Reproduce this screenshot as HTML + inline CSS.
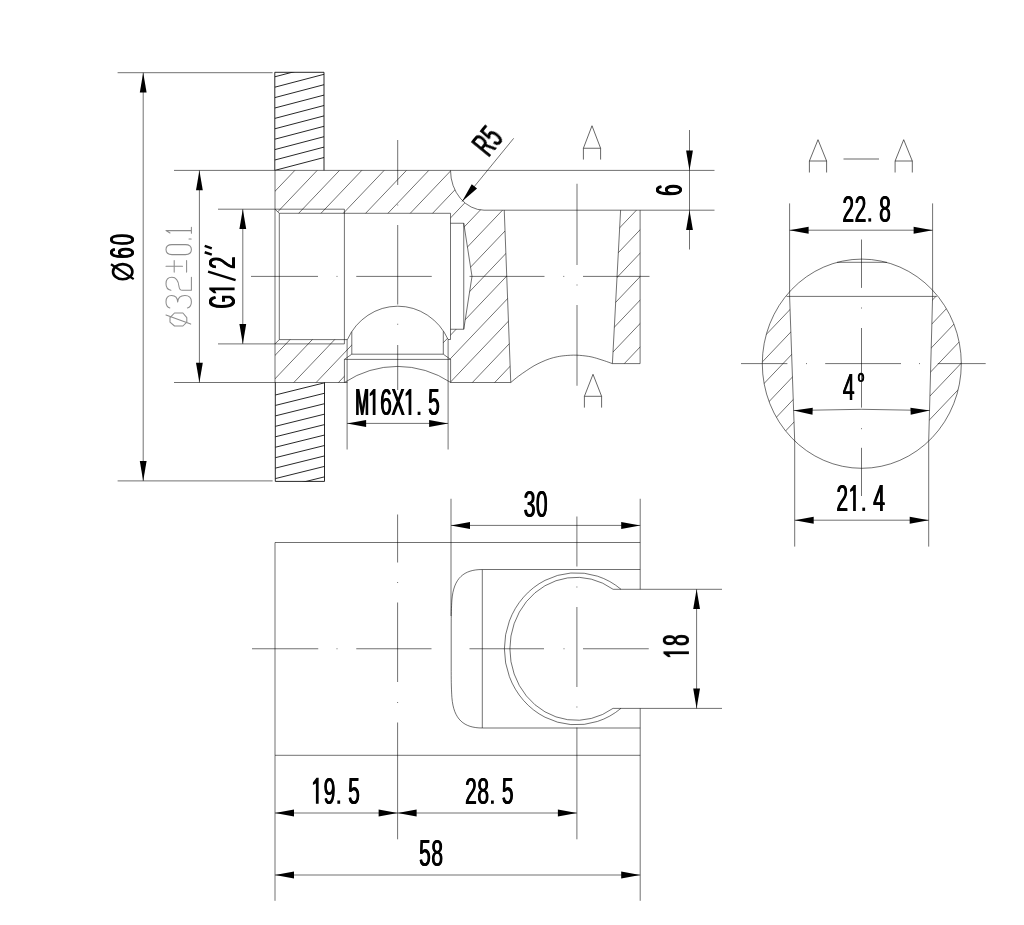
<!DOCTYPE html>
<html><head><meta charset="utf-8"><title>drawing</title>
<style>
html,body{margin:0;padding:0;background:#fff;}
svg{display:block;font-family:"Liberation Sans",sans-serif;}
.l{stroke:#000;stroke-width:0.56;fill:none;}
.c{stroke:#000;stroke-width:0.56;fill:none;}
.d{stroke:#000;stroke-width:0.85;fill:none;}
.g{stroke:#000;stroke-width:0.6;fill:none;}
.ah{fill:#000;stroke:none;}
.t{fill:#000;font-family:"Liberation Sans",sans-serif;}
.tl{fill:none;stroke:#8c8c8c;stroke-width:1.05;stroke-linecap:round;stroke-linejoin:round;}
</style></head><body>
<svg width="1024" height="925" viewBox="0 0 1024 925">
<rect x="0" y="0" width="1024" height="925" fill="#fff"/>

<defs>
<clipPath id="cw1"><rect x="274.8" y="72.3" width="49.2" height="98.1"/></clipPath>
<clipPath id="cw2"><rect x="275.3" y="382.4" width="49.2" height="99"/></clipPath>
<clipPath id="ch1"><path d="M275,170.4 L450.5,170.4 A34,40 0 0 0 484,210.2 L504.25,210.2 L510.75,382.5 L450.5,382.5 L450.5,359.4 L443.3,354.2 L443.3,331.3 L448.1,339.5 L450.5,339.5 L450.5,329.25 L463.75,329.25 L472,276.4 L463.75,223.25 L450.5,223.25 L450.5,213.3 L279.3,213.3 L275,209.2 Z"/></clipPath>
<clipPath id="ch2"><path d="M275,343.9 L279.3,339.6 L347.4,339.6 L351.8,331.7 L351.8,354.2 L344.4,359.4 L344.4,382.6 L275,382.6 Z"/></clipPath>
<clipPath id="ch3"><path d="M620.6,210.2 L640.1,210.2 L640.1,363.6 L612.4,363.6 Z"/></clipPath>
<clipPath id="ca1"><path d="M789.6,296.4 L794.8,441 L700,441 L700,296.4 Z"/></clipPath>
<clipPath id="ca2"><path d="M932.6,296.4 L928.8,441 L1000,441 L1000,296.4 Z"/></clipPath>
<clipPath id="cae"><ellipse cx="861.8" cy="363.7" rx="99.5" ry="104.6"/></clipPath>
</defs>
<path class="d" d="M274.8,170.4 V72.3 H324 V170.4"/>
<path class="d" d="M275.3,382.4 V481.4 H324.5 V382.4"/>
<g clip-path="url(#cw1)">
<path class="d" d="M274.80,170.40L324.00,157.50"/>
<path class="d" d="M274.80,160.00L324.00,147.10"/>
<path class="d" d="M274.80,149.60L324.00,136.70"/>
<path class="d" d="M274.80,139.20L324.00,126.30"/>
<path class="d" d="M274.80,128.80L324.00,115.90"/>
<path class="d" d="M274.80,118.40L324.00,105.50"/>
<path class="d" d="M274.80,108.00L324.00,95.10"/>
<path class="d" d="M274.80,97.60L324.00,84.70"/>
<path class="d" d="M274.80,87.20L324.00,74.30"/>
<path class="d" d="M274.80,76.80L324.00,63.90"/>
<path class="d" d="M274.80,66.40L324.00,53.50"/>
</g>
<g clip-path="url(#cw2)">
<path class="d" d="M275.30,395.00L324.50,382.80"/>
<path class="d" d="M275.30,405.45L324.50,393.25"/>
<path class="d" d="M275.30,415.90L324.50,403.70"/>
<path class="d" d="M275.30,426.35L324.50,414.15"/>
<path class="d" d="M275.30,436.80L324.50,424.60"/>
<path class="d" d="M275.30,447.25L324.50,435.05"/>
<path class="d" d="M275.30,457.70L324.50,445.50"/>
<path class="d" d="M275.30,468.15L324.50,455.95"/>
<path class="d" d="M275.30,478.60L324.50,466.40"/>
<path class="d" d="M275.30,489.05L324.50,476.85"/>
</g>
<path class="l" d="M117.60,72.70L272.60,72.70"/>
<path class="l" d="M117.60,480.90L272.60,480.90"/>
<path class="l" d="M143.20,72.70L143.20,480.90"/>
<path class="ah" d="M143.20,72.70L146.60,92.50L139.80,92.50Z"/>
<path class="ah" d="M143.20,480.90L139.80,461.10L146.60,461.10Z"/>
<path class="l" d="M174.00,170.40L714.50,170.40"/>
<path class="l" d="M174.00,382.50L347.40,382.50"/>
<path class="l" d="M199.40,170.40L199.40,382.50"/>
<path class="ah" d="M199.40,170.40L202.80,190.20L196.00,190.20Z"/>
<path class="ah" d="M199.40,382.50L196.00,362.70L202.80,362.70Z"/>
<path class="l" d="M218.00,209.20L344.40,209.20"/>
<path class="l" d="M218.00,343.90L344.40,343.90"/>
<path class="l" d="M242.80,209.20L242.80,343.90"/>
<path class="ah" d="M242.80,209.20L246.20,229.00L239.40,229.00Z"/>
<path class="ah" d="M242.80,343.90L239.40,324.10L246.20,324.10Z"/>
<path class="l" d="M275.00,170.40L275.00,382.50"/>
<path class="l" d="M344.40,209.20L344.40,343.90"/>
<path class="l" d="M275,209.2 L279.3,213.3 L450.5,213.3"/>
<path class="l" d="M279.30,213.30L279.30,339.60"/>
<path class="l" d="M275,343.9 L279.3,339.6 L347.4,339.6"/>
<path class="l" d="M450.50,213.30L450.50,339.50"/>
<path class="l" d="M450.5,223.25 H463.75 V329.25 H450.5"/>
<path class="l" d="M463.75,223.25 L472,276.4 L463.75,329.25"/>
<path class="l" d="M450.5,170.4 A34,40 0 0 0 484,210.2 L714.5,210.2"/>
<path class="l" d="M504.25,210.20L510.75,382.50"/>
<path class="l" d="M450.50,382.50L510.75,382.50"/>
<path class="l" d="M510.75,382.50 C512.03,381.46 515.85,378.20 518.44,376.25 C521.02,374.30 523.65,372.53 526.25,370.78 C528.85,369.04 531.46,367.27 534.06,365.78 C536.67,364.30 539.27,363.05 541.88,361.88 C544.48,360.70 547.08,359.61 549.69,358.75 C552.29,357.89 554.90,357.24 557.50,356.72 C560.10,356.20 562.19,355.89 565.31,355.62 C568.44,355.36 572.34,355.03 576.25,355.16 C580.16,355.29 585.36,355.89 588.75,356.41 C592.14,356.93 593.96,357.55 596.56,358.28 C599.17,359.01 601.74,359.89 604.38,360.78 C607.01,361.67 611.06,363.13 612.40,363.60"/>
<path class="l" d="M620.6,210.2 L612.4,363.6 L640.1,363.6 L640.1,210.2"/>
<path class="l" d="M347.4,339.6 A55.8,58.6 0 0 1 448.1,339.5 L450.5,339.5"/>
<path class="l" d="M351.8,331.7 V354.2 H443.3 V331.3"/>
<path class="l" d="M351.8,354.2 L344.4,359.4 H450.5 L443.3,354.2"/>
<path class="l" d="M344.40,359.40L344.40,382.50"/>
<path class="l" d="M450.60,359.30L450.60,382.50"/>
<path class="l" d="M347.10,339.60L347.10,449.50"/>
<path class="l" d="M448.10,339.50L448.10,449.50"/>
<path class="l" d="M344.6,382.4 A95.8,95.8 0 0 1 450.6,382.4"/>
<path class="l" d="M347.10,423.40L448.10,423.40"/>
<path class="ah" d="M347.10,423.40L366.10,419.90L366.10,426.90Z"/>
<path class="ah" d="M448.10,423.40L429.10,426.90L429.10,419.90Z"/>
<g clip-path="url(#ch1)">
<path class="l" d="M260.12,160.00L41.16,390.00"/>
<path class="l" d="M282.44,160.00L63.48,390.00"/>
<path class="l" d="M304.76,160.00L85.80,390.00"/>
<path class="l" d="M327.08,160.00L108.12,390.00"/>
<path class="l" d="M349.40,160.00L130.44,390.00"/>
<path class="l" d="M371.72,160.00L152.76,390.00"/>
<path class="l" d="M394.04,160.00L175.08,390.00"/>
<path class="l" d="M416.36,160.00L197.40,390.00"/>
<path class="l" d="M438.68,160.00L219.72,390.00"/>
<path class="l" d="M461.00,160.00L242.04,390.00"/>
<path class="l" d="M483.32,160.00L264.36,390.00"/>
<path class="l" d="M505.64,160.00L286.68,390.00"/>
<path class="l" d="M527.96,160.00L309.00,390.00"/>
<path class="l" d="M550.28,160.00L331.32,390.00"/>
<path class="l" d="M572.60,160.00L353.64,390.00"/>
<path class="l" d="M594.92,160.00L375.96,390.00"/>
<path class="l" d="M617.24,160.00L398.28,390.00"/>
<path class="l" d="M639.56,160.00L420.60,390.00"/>
<path class="l" d="M661.88,160.00L442.92,390.00"/>
<path class="l" d="M684.20,160.00L465.24,390.00"/>
<path class="l" d="M706.52,160.00L487.56,390.00"/>
<path class="l" d="M728.84,160.00L509.88,390.00"/>
<path class="l" d="M751.16,160.00L532.20,390.00"/>
<path class="l" d="M773.48,160.00L554.52,390.00"/>
<path class="l" d="M795.80,160.00L576.84,390.00"/>
<path class="l" d="M818.12,160.00L599.16,390.00"/>
<path class="l" d="M840.44,160.00L621.48,390.00"/>
<path class="l" d="M862.76,160.00L643.80,390.00"/>
<path class="l" d="M885.08,160.00L666.12,390.00"/>
<path class="l" d="M907.40,160.00L688.44,390.00"/>
<path class="l" d="M929.72,160.00L710.76,390.00"/>
<path class="l" d="M952.04,160.00L733.08,390.00"/>
</g>
<g clip-path="url(#ch2)">
<path class="l" d="M260.12,160.00L41.16,390.00"/>
<path class="l" d="M282.44,160.00L63.48,390.00"/>
<path class="l" d="M304.76,160.00L85.80,390.00"/>
<path class="l" d="M327.08,160.00L108.12,390.00"/>
<path class="l" d="M349.40,160.00L130.44,390.00"/>
<path class="l" d="M371.72,160.00L152.76,390.00"/>
<path class="l" d="M394.04,160.00L175.08,390.00"/>
<path class="l" d="M416.36,160.00L197.40,390.00"/>
<path class="l" d="M438.68,160.00L219.72,390.00"/>
<path class="l" d="M461.00,160.00L242.04,390.00"/>
<path class="l" d="M483.32,160.00L264.36,390.00"/>
<path class="l" d="M505.64,160.00L286.68,390.00"/>
<path class="l" d="M527.96,160.00L309.00,390.00"/>
<path class="l" d="M550.28,160.00L331.32,390.00"/>
<path class="l" d="M572.60,160.00L353.64,390.00"/>
<path class="l" d="M594.92,160.00L375.96,390.00"/>
<path class="l" d="M617.24,160.00L398.28,390.00"/>
<path class="l" d="M639.56,160.00L420.60,390.00"/>
<path class="l" d="M661.88,160.00L442.92,390.00"/>
<path class="l" d="M684.20,160.00L465.24,390.00"/>
<path class="l" d="M706.52,160.00L487.56,390.00"/>
<path class="l" d="M728.84,160.00L509.88,390.00"/>
<path class="l" d="M751.16,160.00L532.20,390.00"/>
<path class="l" d="M773.48,160.00L554.52,390.00"/>
<path class="l" d="M795.80,160.00L576.84,390.00"/>
<path class="l" d="M818.12,160.00L599.16,390.00"/>
<path class="l" d="M840.44,160.00L621.48,390.00"/>
<path class="l" d="M862.76,160.00L643.80,390.00"/>
<path class="l" d="M885.08,160.00L666.12,390.00"/>
<path class="l" d="M907.40,160.00L688.44,390.00"/>
<path class="l" d="M929.72,160.00L710.76,390.00"/>
<path class="l" d="M952.04,160.00L733.08,390.00"/>
</g>
<g clip-path="url(#ch3)">
<path class="l" d="M260.12,160.00L41.16,390.00"/>
<path class="l" d="M282.44,160.00L63.48,390.00"/>
<path class="l" d="M304.76,160.00L85.80,390.00"/>
<path class="l" d="M327.08,160.00L108.12,390.00"/>
<path class="l" d="M349.40,160.00L130.44,390.00"/>
<path class="l" d="M371.72,160.00L152.76,390.00"/>
<path class="l" d="M394.04,160.00L175.08,390.00"/>
<path class="l" d="M416.36,160.00L197.40,390.00"/>
<path class="l" d="M438.68,160.00L219.72,390.00"/>
<path class="l" d="M461.00,160.00L242.04,390.00"/>
<path class="l" d="M483.32,160.00L264.36,390.00"/>
<path class="l" d="M505.64,160.00L286.68,390.00"/>
<path class="l" d="M527.96,160.00L309.00,390.00"/>
<path class="l" d="M550.28,160.00L331.32,390.00"/>
<path class="l" d="M572.60,160.00L353.64,390.00"/>
<path class="l" d="M594.92,160.00L375.96,390.00"/>
<path class="l" d="M617.24,160.00L398.28,390.00"/>
<path class="l" d="M639.56,160.00L420.60,390.00"/>
<path class="l" d="M661.88,160.00L442.92,390.00"/>
<path class="l" d="M684.20,160.00L465.24,390.00"/>
<path class="l" d="M706.52,160.00L487.56,390.00"/>
<path class="l" d="M728.84,160.00L509.88,390.00"/>
<path class="l" d="M751.16,160.00L532.20,390.00"/>
<path class="l" d="M773.48,160.00L554.52,390.00"/>
<path class="l" d="M795.80,160.00L576.84,390.00"/>
<path class="l" d="M818.12,160.00L599.16,390.00"/>
<path class="l" d="M840.44,160.00L621.48,390.00"/>
<path class="l" d="M862.76,160.00L643.80,390.00"/>
<path class="l" d="M885.08,160.00L666.12,390.00"/>
<path class="l" d="M907.40,160.00L688.44,390.00"/>
<path class="l" d="M929.72,160.00L710.76,390.00"/>
<path class="l" d="M952.04,160.00L733.08,390.00"/>
</g>
<path class="c" d="M251.00,276.40L318.00,276.40"/>
<path class="c" d="M356.25,276.40L431.75,276.40"/>
<path class="c" d="M469.50,276.40L544.50,276.40"/>
<path class="c" d="M583.00,276.40L649.50,276.40"/>
<path class="c" d="M336.50,276.40L337.50,276.40"/>
<path class="c" d="M563.25,276.40L564.25,276.40"/>
<path class="c" d="M397.70,140.00L397.70,185.00"/>
<path class="c" d="M397.70,225.00L397.70,304.50"/>
<path class="c" d="M397.70,345.00L397.70,390.00"/>
<path class="c" d="M397.70,204.50L397.70,205.50"/>
<path class="c" d="M397.70,323.75L397.70,324.75"/>
<path class="c" d="M577.00,183.75L577.00,265.00"/>
<path class="c" d="M577.00,305.00L577.00,385.75"/>
<path class="c" d="M577.00,284.50L577.00,285.50"/>
<path class="l" d="M513.70,138.30L462.00,201.60"/>
<path class="ah" d="M462.00,201.60L471.75,184.23L477.05,188.56Z"/>
<path class="l" d="M689.50,130.00L689.50,249.50"/>
<path class="ah" d="M689.50,170.40L686.10,150.60L692.90,150.60Z"/>
<path class="ah" d="M689.50,210.20L692.90,230.00L686.10,230.00Z"/>
<path class="g" d="M583.40,159.55 V148.25 L592.00,125.75 L600.60,148.25 V159.55 M583.40,148.25 H600.60"/>
<path class="g" d="M584.40,407.60 V396.30 L593.00,374.30 L601.60,396.30 V407.60 M584.40,396.30 H601.60"/>
<path class="g" d="M809.40,172.50 V161.00 L818.00,139.70 L826.60,161.00 V172.50 M809.40,161.00 H826.60"/>
<path class="g" d="M895.10,172.50 V161.00 L903.70,139.70 L912.30,161.00 V172.50 M895.10,161.00 H912.30"/>
<path class="g" d="M843.50,159.00L879.00,159.00"/>
<ellipse class="l" cx="861.8" cy="363.7" rx="99.5" ry="104.6"/>
<path class="l" d="M786.50,296.40L936.80,296.40"/>
<path class="l" d="M837.00,262.30L887.00,262.30"/>
<path class="l" d="M789.60,203.40L789.60,296.40"/>
<path class="l" d="M932.60,203.40L932.60,296.40"/>
<path class="l" d="M789.60,296.40L794.70,441.00"/>
<path class="l" d="M932.60,296.40L928.70,441.00"/>
<path class="l" d="M794.70,441.00L794.70,546.60"/>
<path class="l" d="M928.70,441.00L928.70,546.60"/>
<path class="l" d="M789.60,230.20L932.60,230.20"/>
<path class="ah" d="M789.60,230.20L808.60,226.70L808.60,233.70Z"/>
<path class="ah" d="M932.60,230.20L913.60,233.70L913.60,226.70Z"/>
<path class="l" d="M794.70,520.20L928.70,520.20"/>
<path class="ah" d="M794.70,520.20L813.70,516.70L813.70,523.70Z"/>
<path class="ah" d="M928.70,520.20L909.70,523.70L909.70,516.70Z"/>
<path class="l" d="M793.6,410.5 Q861.5,408.1 929.6,410.5"/>
<path class="ah" d="M793.60,410.50L812.74,407.67L812.49,414.66Z"/>
<path class="ah" d="M929.60,410.50L910.71,414.66L910.46,407.67Z"/>
<path class="c" d="M741.00,363.60L787.40,363.60"/>
<path class="c" d="M825.20,363.60L901.00,363.60"/>
<path class="c" d="M937.80,363.60L985.70,363.60"/>
<path class="c" d="M806.00,363.60L807.00,363.60"/>
<path class="c" d="M919.00,363.60L920.00,363.60"/>
<path class="c" d="M861.50,239.50L861.50,287.90"/>
<path class="c" d="M861.50,328.00L861.50,407.60"/>
<path class="c" d="M861.50,447.80L861.50,496.00"/>
<path class="c" d="M861.50,307.50L861.50,308.50"/>
<path class="c" d="M861.50,428.20L861.50,429.20"/>
<g clip-path="url(#cae)">
<g clip-path="url(#ca1)">
<path class="l" d="M741.90,290.00L589.58,450.00"/>
<path class="l" d="M764.13,290.00L611.81,450.00"/>
<path class="l" d="M786.36,290.00L634.04,450.00"/>
<path class="l" d="M808.59,290.00L656.27,450.00"/>
<path class="l" d="M830.82,290.00L678.50,450.00"/>
<path class="l" d="M853.05,290.00L700.73,450.00"/>
<path class="l" d="M875.28,290.00L722.96,450.00"/>
<path class="l" d="M897.51,290.00L745.19,450.00"/>
<path class="l" d="M919.74,290.00L767.42,450.00"/>
<path class="l" d="M941.97,290.00L789.65,450.00"/>
<path class="l" d="M964.20,290.00L811.88,450.00"/>
<path class="l" d="M986.43,290.00L834.11,450.00"/>
<path class="l" d="M1008.66,290.00L856.34,450.00"/>
<path class="l" d="M1030.89,290.00L878.57,450.00"/>
<path class="l" d="M1053.12,290.00L900.80,450.00"/>
<path class="l" d="M1075.35,290.00L923.03,450.00"/>
<path class="l" d="M1097.58,290.00L945.26,450.00"/>
<path class="l" d="M1119.81,290.00L967.49,450.00"/>
<path class="l" d="M1142.04,290.00L989.72,450.00"/>
</g>
<g clip-path="url(#ca2)">
<path class="l" d="M741.90,290.00L589.58,450.00"/>
<path class="l" d="M764.13,290.00L611.81,450.00"/>
<path class="l" d="M786.36,290.00L634.04,450.00"/>
<path class="l" d="M808.59,290.00L656.27,450.00"/>
<path class="l" d="M830.82,290.00L678.50,450.00"/>
<path class="l" d="M853.05,290.00L700.73,450.00"/>
<path class="l" d="M875.28,290.00L722.96,450.00"/>
<path class="l" d="M897.51,290.00L745.19,450.00"/>
<path class="l" d="M919.74,290.00L767.42,450.00"/>
<path class="l" d="M941.97,290.00L789.65,450.00"/>
<path class="l" d="M964.20,290.00L811.88,450.00"/>
<path class="l" d="M986.43,290.00L834.11,450.00"/>
<path class="l" d="M1008.66,290.00L856.34,450.00"/>
<path class="l" d="M1030.89,290.00L878.57,450.00"/>
<path class="l" d="M1053.12,290.00L900.80,450.00"/>
<path class="l" d="M1075.35,290.00L923.03,450.00"/>
<path class="l" d="M1097.58,290.00L945.26,450.00"/>
<path class="l" d="M1119.81,290.00L967.49,450.00"/>
<path class="l" d="M1142.04,290.00L989.72,450.00"/>
</g>
</g>
<path class="l" d="M640.2,542.5 H275 V755.3 H640.2"/>
<path class="l" d="M640.20,498.75L640.20,589.30"/>
<path class="l" d="M640.20,708.40L640.20,900.80"/>
<path class="l" d="M451.00,498.75L451.00,616.00"/>
<path class="l" d="M451.00,525.40L640.20,525.40"/>
<path class="ah" d="M451.00,525.40L470.00,521.90L470.00,528.90Z"/>
<path class="ah" d="M640.20,525.40L621.20,528.90L621.20,521.90Z"/>
<path class="l" d="M640.2,569.5 H482.3 C464,569.5 453.6,578 451.9,600 C451.4,607 451.2,615 451.2,626 V671.5 C451.2,682.5 451.4,690.5 451.9,697.5 C453.6,719.5 464,728 482.3,728 H640.2"/>
<path class="l" d="M482.30,569.50L482.30,728.00"/>
<path class="l" d="M621.03,589.30 A71.9,76 0 1 0 621.03,708.30"/>
<path class="l" d="M613.12,589.30 A66.4,71.5 0 1 0 613.12,708.30"/>
<path class="l" d="M613.12,589.30L722.00,589.30"/>
<path class="l" d="M613.12,708.40L722.00,708.40"/>
<path class="l" d="M696.60,589.30L696.60,708.40"/>
<path class="ah" d="M696.60,589.30L700.00,609.10L693.20,609.10Z"/>
<path class="ah" d="M696.60,708.40L693.20,688.60L700.00,688.60Z"/>
<path class="c" d="M252.00,648.75L318.25,648.75"/>
<path class="c" d="M356.25,648.75L431.50,648.75"/>
<path class="c" d="M469.50,648.75L544.00,648.75"/>
<path class="c" d="M583.00,648.75L648.75,648.75"/>
<path class="c" d="M336.50,648.75L337.50,648.75"/>
<path class="c" d="M563.50,648.75L564.50,648.75"/>
<path class="c" d="M397.60,514.50L397.60,562.50"/>
<path class="c" d="M397.60,602.50L397.60,682.00"/>
<path class="c" d="M397.60,722.50L397.60,839.30"/>
<path class="c" d="M397.60,582.00L397.60,583.00"/>
<path class="c" d="M397.60,702.00L397.60,703.00"/>
<path class="c" d="M576.90,516.50L576.90,566.50"/>
<path class="c" d="M576.90,607.00L576.90,687.00"/>
<path class="c" d="M576.90,727.50L576.90,839.30"/>
<path class="c" d="M576.90,586.50L576.90,587.50"/>
<path class="c" d="M576.90,706.50L576.90,707.50"/>
<path class="l" d="M275.00,755.30L275.00,900.80"/>
<path class="l" d="M275.00,813.00L576.90,813.00"/>
<path class="ah" d="M275.00,813.00L294.00,809.50L294.00,816.50Z"/>
<path class="ah" d="M397.60,813.00L378.60,816.50L378.60,809.50Z"/>
<path class="ah" d="M397.60,813.00L416.60,809.50L416.60,816.50Z"/>
<path class="ah" d="M576.90,813.00L557.90,816.50L557.90,809.50Z"/>
<path class="l" d="M275.00,875.00L640.20,875.00"/>
<path class="ah" d="M275.00,875.00L294.00,871.50L294.00,878.50Z"/>
<path class="ah" d="M640.20,875.00L621.20,878.50L621.20,871.50Z"/>
<g opacity="0.999">
<g transform="translate(356.20,415.00) rotate(0)">
<text class="t" font-size="37.8" transform="translate(-1.44,0) scale(0.4310,1)">M</text>
<text class="t" font-size="37.8" transform="translate(-0.81,0) scale(0.4310,1)">M</text>
<text class="t" font-size="37.8" transform="translate(-0.19,0) scale(0.4310,1)">M</text>
<path class="ah" d="M16.55,0 V-20.41 L13.55,-18.81 V-21.41 L17.15,-26.01 H19.30 V0 Z"/>
<text class="t" font-size="37.8" transform="translate(23.56,0) scale(0.5550,1)">6</text>
<text class="t" font-size="37.8" transform="translate(23.97,0) scale(0.5550,1)">6</text>
<text class="t" font-size="37.8" transform="translate(24.38,0) scale(0.5550,1)">6</text>
<text class="t" font-size="37.8" transform="translate(34.77,0) scale(0.5215,1)">X</text>
<text class="t" font-size="37.8" transform="translate(35.24,0) scale(0.5215,1)">X</text>
<text class="t" font-size="37.8" transform="translate(35.71,0) scale(0.5215,1)">X</text>
<path class="ah" d="M52.40,0 V-20.41 L49.40,-18.81 V-21.41 L53.00,-26.01 H55.15 V0 Z"/>
<rect class="ah" x="61.45" y="-3.3" width="2.8" height="3.3"/>
<text class="t" font-size="37.8" transform="translate(71.44,0) scale(0.5550,1)">5</text>
<text class="t" font-size="37.8" transform="translate(71.85,0) scale(0.5550,1)">5</text>
<text class="t" font-size="37.8" transform="translate(72.26,0) scale(0.5550,1)">5</text>
</g>
<g transform="translate(523.40,516.80) rotate(0)">
<text class="t" font-size="37.8" transform="translate(-0.06,0) scale(0.5550,1)">3</text>
<text class="t" font-size="37.8" transform="translate(0.35,0) scale(0.5550,1)">3</text>
<text class="t" font-size="37.8" transform="translate(0.76,0) scale(0.5550,1)">3</text>
<text class="t" font-size="37.8" transform="translate(12.12,0) scale(0.5550,1)">0</text>
<text class="t" font-size="37.8" transform="translate(12.53,0) scale(0.5550,1)">0</text>
<text class="t" font-size="37.8" transform="translate(12.94,0) scale(0.5550,1)">0</text>
</g>
<g transform="translate(311.15,803.80) rotate(0)">
<path class="ah" d="M4.75,0 V-20.41 L1.75,-18.81 V-21.41 L5.35,-26.01 H7.50 V0 Z"/>
<text class="t" font-size="37.8" transform="translate(12.14,0) scale(0.5550,1)">9</text>
<text class="t" font-size="37.8" transform="translate(12.55,0) scale(0.5550,1)">9</text>
<text class="t" font-size="37.8" transform="translate(12.96,0) scale(0.5550,1)">9</text>
<rect class="ah" x="26.20" y="-3.3" width="2.8" height="3.3"/>
<text class="t" font-size="37.8" transform="translate(36.64,0) scale(0.5550,1)">5</text>
<text class="t" font-size="37.8" transform="translate(37.05,0) scale(0.5550,1)">5</text>
<text class="t" font-size="37.8" transform="translate(37.46,0) scale(0.5550,1)">5</text>
</g>
<g transform="translate(464.80,803.80) rotate(0)">
<text class="t" font-size="37.8" transform="translate(-0.12,0) scale(0.5550,1)">2</text>
<text class="t" font-size="37.8" transform="translate(0.29,0) scale(0.5550,1)">2</text>
<text class="t" font-size="37.8" transform="translate(0.70,0) scale(0.5550,1)">2</text>
<text class="t" font-size="37.8" transform="translate(12.13,0) scale(0.5550,1)">8</text>
<text class="t" font-size="37.8" transform="translate(12.54,0) scale(0.5550,1)">8</text>
<text class="t" font-size="37.8" transform="translate(12.95,0) scale(0.5550,1)">8</text>
<rect class="ah" x="26.20" y="-3.3" width="2.8" height="3.3"/>
<text class="t" font-size="37.8" transform="translate(36.64,0) scale(0.5550,1)">5</text>
<text class="t" font-size="37.8" transform="translate(37.05,0) scale(0.5550,1)">5</text>
<text class="t" font-size="37.8" transform="translate(37.46,0) scale(0.5550,1)">5</text>
</g>
<g transform="translate(418.75,865.70) rotate(0)">
<text class="t" font-size="37.8" transform="translate(-0.11,0) scale(0.5550,1)">5</text>
<text class="t" font-size="37.8" transform="translate(0.30,0) scale(0.5550,1)">5</text>
<text class="t" font-size="37.8" transform="translate(0.71,0) scale(0.5550,1)">5</text>
<text class="t" font-size="37.8" transform="translate(12.13,0) scale(0.5550,1)">8</text>
<text class="t" font-size="37.8" transform="translate(12.54,0) scale(0.5550,1)">8</text>
<text class="t" font-size="37.8" transform="translate(12.95,0) scale(0.5550,1)">8</text>
</g>
<g transform="translate(842.15,221.60) rotate(0)">
<text class="t" font-size="37.8" transform="translate(-0.12,0) scale(0.5550,1)">2</text>
<text class="t" font-size="37.8" transform="translate(0.29,0) scale(0.5550,1)">2</text>
<text class="t" font-size="37.8" transform="translate(0.70,0) scale(0.5550,1)">2</text>
<text class="t" font-size="37.8" transform="translate(12.13,0) scale(0.5550,1)">2</text>
<text class="t" font-size="37.8" transform="translate(12.54,0) scale(0.5550,1)">2</text>
<text class="t" font-size="37.8" transform="translate(12.95,0) scale(0.5550,1)">2</text>
<rect class="ah" x="26.20" y="-3.3" width="2.8" height="3.3"/>
<text class="t" font-size="37.8" transform="translate(36.63,0) scale(0.5550,1)">8</text>
<text class="t" font-size="37.8" transform="translate(37.04,0) scale(0.5550,1)">8</text>
<text class="t" font-size="37.8" transform="translate(37.45,0) scale(0.5550,1)">8</text>
</g>
<g transform="translate(836.10,510.90) rotate(0)">
<text class="t" font-size="37.8" transform="translate(-0.12,0) scale(0.5550,1)">2</text>
<text class="t" font-size="37.8" transform="translate(0.29,0) scale(0.5550,1)">2</text>
<text class="t" font-size="37.8" transform="translate(0.70,0) scale(0.5550,1)">2</text>
<path class="ah" d="M17.00,0 V-20.41 L14.00,-18.81 V-21.41 L17.60,-26.01 H19.75 V0 Z"/>
<rect class="ah" x="26.20" y="-3.3" width="2.8" height="3.3"/>
<text class="t" font-size="37.8" transform="translate(36.71,0) scale(0.5550,1)">4</text>
<text class="t" font-size="37.8" transform="translate(37.12,0) scale(0.5550,1)">4</text>
<text class="t" font-size="37.8" transform="translate(37.53,0) scale(0.5550,1)">4</text>
</g>
<g transform="translate(842.45,400.10) rotate(0)">
<text class="t" font-size="37.8" transform="translate(-0.04,0) scale(0.5550,1)">4</text>
<text class="t" font-size="37.8" transform="translate(0.37,0) scale(0.5550,1)">4</text>
<text class="t" font-size="37.8" transform="translate(0.78,0) scale(0.5550,1)">4</text>
</g>
<ellipse cx="861.0" cy="377.4" rx="2.25" ry="3.7" stroke="#000" stroke-width="1.9" fill="none"/>
<g transform="translate(688.90,659.05) rotate(-90)">
<path class="ah" d="M4.92,0 V-19.86 L1.92,-18.26 V-20.86 L5.52,-25.46 H7.67 V0 Z"/>
<text class="t" font-size="37.0" transform="translate(12.80,0) scale(0.5500,1)">8</text>
<text class="t" font-size="37.0" transform="translate(13.24,0) scale(0.5500,1)">8</text>
<text class="t" font-size="37.0" transform="translate(13.68,0) scale(0.5500,1)">8</text>
</g>
<g transform="translate(682.00,196.35) rotate(-90)">
<text class="t" font-size="37.0" transform="translate(0.13,0) scale(0.5500,1)">6</text>
<text class="t" font-size="37.0" transform="translate(0.57,0) scale(0.5500,1)">6</text>
<text class="t" font-size="37.0" transform="translate(1.01,0) scale(0.5500,1)">6</text>
</g>
<g transform="translate(489.30,157.30) rotate(-50.8)">
<text class="t" font-size="35.2" transform="translate(-1.30,0) scale(0.5165,1)">R</text>
<text class="t" font-size="35.2" transform="translate(-0.77,0) scale(0.5165,1)">R</text>
<text class="t" font-size="35.2" transform="translate(-0.23,0) scale(0.5165,1)">R</text>
<text class="t" font-size="35.2" transform="translate(12.48,0) scale(0.5550,1)">5</text>
<text class="t" font-size="35.2" transform="translate(12.95,0) scale(0.5550,1)">5</text>
<text class="t" font-size="35.2" transform="translate(13.43,0) scale(0.5550,1)">5</text>
</g>
<g transform="translate(234.60,308.35) rotate(-90)">
<text class="t" font-size="36.8" transform="translate(-0.44,0) scale(0.4571,1)">G</text>
<text class="t" font-size="36.8" transform="translate(0.16,0) scale(0.4571,1)">G</text>
<text class="t" font-size="36.8" transform="translate(0.76,0) scale(0.4571,1)">G</text>
<path class="ah" d="M18.12,0 V-19.72 L15.12,-18.12 V-20.72 L18.73,-25.32 H20.88 V0 Z"/>
<path d="M28.30,1.0 L36.70,-26.52" stroke="#000" stroke-width="2.4" fill="none"/>
<text class="t" font-size="36.8" transform="translate(38.83,0) scale(0.6200,1)">2</text>
<text class="t" font-size="36.8" transform="translate(39.16,0) scale(0.6200,1)">2</text>
<text class="t" font-size="36.8" transform="translate(39.48,0) scale(0.6200,1)">2</text>
</g>
<g transform="translate(234.1,307.6) rotate(-90) scale(1,-1)">
<path d="M53.0,22.3 L55.3,29.4 M59.2,22.3 L61.7,29.4" stroke="#000" stroke-width="2.5" fill="none"/>
</g>
<g transform="translate(133.70,280.60) rotate(-90)">
<text class="t" font-size="34.4" transform="translate(21.69,0) scale(0.5850,1)">6</text>
<text class="t" font-size="34.4" transform="translate(22.14,0) scale(0.5850,1)">6</text>
<text class="t" font-size="34.4" transform="translate(22.58,0) scale(0.5850,1)">6</text>
<text class="t" font-size="34.4" transform="translate(35.00,0) scale(0.5850,1)">0</text>
<text class="t" font-size="34.4" transform="translate(35.45,0) scale(0.5850,1)">0</text>
<text class="t" font-size="34.4" transform="translate(35.89,0) scale(0.5850,1)">0</text>
</g>
<g transform="translate(133.7,280.6) rotate(-90) scale(1,-1)">
<ellipse cx="8.9" cy="11" rx="7.6" ry="9.7" stroke="#000" stroke-width="2.6" fill="none"/>
<path d="M1.5,0 L16.3,22.7" stroke="#000" stroke-width="2.3" fill="none"/>
</g>
<g transform="translate(191.4,326.5) rotate(-90) scale(1,-1)">
<path class="tl" d="M13.5,16.9 L13.5,8.5 L8.9,4.6 L4.4,4.6 L0.5,8.5 L0.5,16.9 L4.4,21.4 L8.9,21.4 Z"/>
<path class="tl" d="M2.4,0.7 L11.5,25.4"/>
<path class="tl" d="M18.6,21.5 Q19.5,25.4 24.8,25.4 Q31,25.4 31,19.8 Q31,14 24.5,13.7 Q31,13.4 31,6.5 Q31,0 24.8,0 Q19.5,0 18.6,4"/>
<path class="tl" d="M36.2,20.5 Q37,25.4 42.7,25.4 Q49.2,25.4 49.2,19.5 Q49.2,13.5 40,12.4 Q36.2,12 36.2,9 L36.2,0 L49.2,0"/>
<path class="tl" d="M54.4,17.2 H66 M60.2,8.9 V25.4 M54.4,4.8 H66"/>
<path class="tl" d="M71.9,6 V19.4 Q71.9,25.4 76.9,25.4 Q81.9,25.4 81.9,19.4 V6 Q81.9,0 76.9,0 Q71.9,0 71.9,6 Z"/>
<path class="tl" d="M87.5,0.2 V2.4"/>
<path class="tl" d="M93.5,21.4 L95.9,25.4 V0 M93.3,0 H99.2"/>
</g>
</g>
</svg></body></html>
